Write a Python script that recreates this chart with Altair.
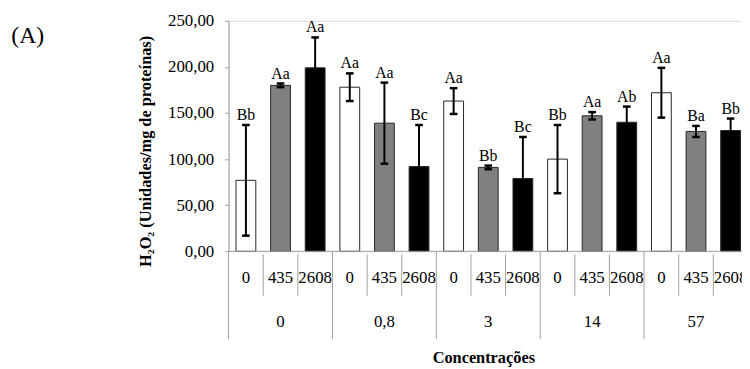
import altair as alt
import pandas as pd

groups = ["0", "0,8", "3", "14", "57"]
doses = ["0", "435", "2608"]
values = [77, 180, 199, 178, 139, 92, 163, 91, 79, 100, 147, 140, 172, 130, 131]
errors = [60, 2, 33, 15, 44, 45, 14, 2, 45, 37, 4, 17, 27, 6, 13]
letters = ["Bb", "Aa", "Aa", "Aa", "Aa", "Bc", "Aa", "Bb", "Bc", "Bb", "Aa", "Ab", "Aa", "Ba", "Bb"]
dose_colors = ["#ffffff", "#808080", "#000000"]
y_ticks = [0, 50, 100, 150, 200, 250]

FONT = "'Liberation Serif', 'Times New Roman', serif"
STEP = 35.0
W = 519
H = 233

rows = []
for gi, g in enumerate(groups):
    for di, d in enumerate(doses):
        k = gi * 3 + di
        rows.append(dict(
            idx=k, group=g, dose=d, value=values[k], err=errors[k], letter=letters[k],
            x0=k + 0.214, x1=k + 0.786, xc=k + 0.5, base=0,
            lo=values[k] - errors[k], hi=values[k] + errors[k],
            c0=k + 0.39, c1=k + 0.61,
        ))
df = pd.DataFrame(rows)

xs = alt.Scale(domain=[0, W / STEP], nice=False, zero=False)
ys = alt.Scale(domain=[0, 250], nice=False)

bars = alt.Chart(df).mark_bar(stroke="#262626", strokeWidth=1).encode(
    x=alt.X("x0:Q", scale=xs, axis=None),
    x2="x1:Q",
    y=alt.Y("value:Q", scale=ys, axis=alt.Axis(
        values=y_ticks, title=None, grid=False,
        labelExpr="replace(format(datum.value, '.2f'), '.', ',')",
        domainColor="#a0a0a0", tickColor="#a0a0a0", tickSize=4,
        labelFont=FONT, labelFontSize=17, labelColor="#000000", labelPadding=11,
    )),
    y2="base:Q",
    color=alt.Color("dose:N", scale=alt.Scale(domain=doses, range=dose_colors), legend=None),
)

err_rule = alt.Chart(df).mark_rule(color="#000000", strokeWidth=2).encode(
    x=alt.X("xc:Q", scale=xs, axis=None),
    y=alt.Y("lo:Q", scale=ys),
    y2="hi:Q",
)
cap_hi = alt.Chart(df).mark_rule(color="#000000", strokeWidth=2.5).encode(
    x=alt.X("c0:Q", scale=xs, axis=None), x2="c1:Q", y=alt.Y("hi:Q", scale=ys),
)
cap_lo = alt.Chart(df).mark_rule(color="#000000", strokeWidth=2.5).encode(
    x=alt.X("c0:Q", scale=xs, axis=None), x2="c1:Q", y=alt.Y("lo:Q", scale=ys),
)

letter_txt = alt.Chart(df).mark_text(font=FONT, fontSize=16, baseline="bottom", dy=-2, color="#000000").encode(
    x=alt.X("xc:Q", scale=xs, axis=None),
    y=alt.Y("hi:Q", scale=ys),
    text="letter:N",
)

baseline = alt.Chart(pd.DataFrame({"a": [0.0], "b": [15.0], "z": [0.0]})).mark_rule(color="#a0a0a0", strokeWidth=1).encode(
    x=alt.X("a:Q", scale=xs, axis=None), x2="b:Q", y=alt.Y("z:Q", scale=ys),
)

sep_short = pd.DataFrame({"pos": [k for k in range(1, 15) if k % 3 != 0]})
sep_long = pd.DataFrame({"pos": [k for k in range(0, 16, 3)]})
short_rules = alt.Chart(sep_short).mark_rule(color="#a0a0a0", strokeWidth=1).encode(
    x=alt.X("pos:Q", scale=xs, axis=None), y=alt.value(236), y2=alt.value(278),
)
long_rules = alt.Chart(sep_long).mark_rule(color="#a0a0a0", strokeWidth=1).encode(
    x=alt.X("pos:Q", scale=xs, axis=None), y=alt.value(233), y2=alt.value(322),
)

dose_txt = alt.Chart(df).mark_text(font=FONT, fontSize=17, baseline="middle", color="#000000").encode(
    x=alt.X("xc:Q", scale=xs, axis=None), y=alt.value(260), text="dose:N",
)

gdf = pd.DataFrame({"group": groups, "gc": [gi * 3 + 1.5 for gi in range(len(groups))]})
group_txt = alt.Chart(gdf).mark_text(font=FONT, fontSize=17, baseline="middle", color="#000000").encode(
    x=alt.X("gc:Q", scale=xs, axis=None), y=alt.value(305), text="group:N",
)

xtitle = alt.Chart(pd.DataFrame({"t": ["Concentrações"]})).mark_text(
    font=FONT, fontSize=16.5, fontWeight="bold", baseline="middle", color="#000000"
).encode(x=alt.value(258), y=alt.value(341), text="t:N")

ytitle = alt.Chart(pd.DataFrame({"t": ["H₂O₂ (Unidades/mg de proteínas)"]})).mark_text(
    font=FONT, fontSize=16.5, fontWeight="bold", baseline="middle", angle=270, color="#000000"
).encode(x=alt.value(-83), y=alt.value(132), text="t:N")

panel = alt.Chart(pd.DataFrame({"t": ["(A)"]})).mark_text(
    font=FONT, fontSize=24, baseline="middle", color="#000000"
).encode(x=alt.value(-203), y=alt.value(15), text="t:N")

chart = alt.layer(
    short_rules, long_rules, bars, baseline, err_rule, cap_hi, cap_lo, letter_txt,
    dose_txt, group_txt, xtitle, ytitle, panel,
).properties(
    width=W, height=H,
    autosize=alt.AutoSizeParams(type="none"),
    padding={"left": 223, "top": 11, "right": 0, "bottom": 117},
).configure_view(stroke=None).configure(background="#ffffff")

chart.save("out.html", embed_options={"renderer": "svg", "actions": False})
